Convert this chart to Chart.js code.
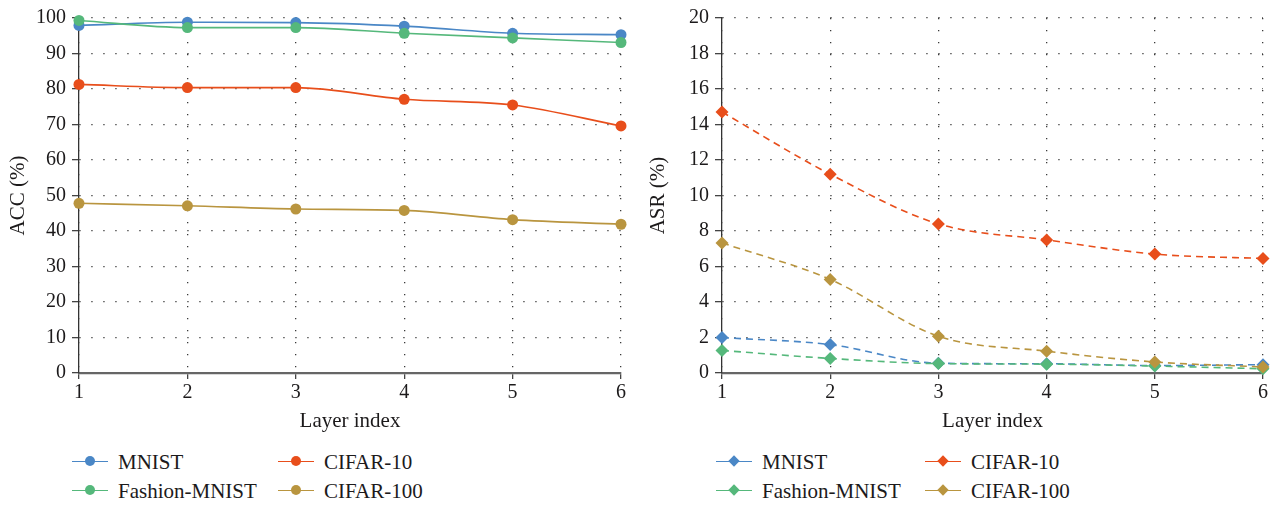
<!DOCTYPE html>
<html>
<head>
<meta charset="utf-8">
<script src="https://cdn.jsdelivr.net/npm/chart.js@4.4.0/dist/chart.umd.min.js"></script>
<style>
    body { margin: 0; background: #fff; width: 1276px; height: 505px; position: relative; overflow: hidden;
           font-family: 'Liberation Serif', serif; color: #1c1a1b; }
    #accBox { position: absolute; left: 0; top: 0; width: 640px; height: 440px; }
    #asrBox { position: absolute; left: 640px; top: 0; width: 636px; height: 440px; }
    .leg { position: absolute; height: 24px; font-size: 21px; line-height: 24px; white-space: nowrap; }
    .leg .ln { position: absolute; left: 0; top: 11px; width: 36px; height: 0; border-top: 1.6px solid; }
    .leg .mk { position: absolute; }
    .leg .tx { position: absolute; left: 46px; top: 0; }
</style>
</head>
<body>
<div id="accBox"><canvas id="accChart"></canvas></div>
<div id="asrBox"><canvas id="asrChart"></canvas></div>
<div id="legends"></div>

<script>
// Data
const layers = ['1', '2', '3', '4', '5', '6'];
const names = ['MNIST', 'Fashion-MNIST', 'CIFAR-10', 'CIFAR-100'];
const colors = ['#4a87c6', '#55b87b', '#e84e1b', '#b9953f'];

const accMnist = [97.9, 98.8, 98.7, 97.7, 95.7, 95.3];
const accFashion = [99.3, 97.3, 97.3, 95.7, 94.4, 93.1];
const accCifar10 = [81.3, 80.4, 80.4, 77.1, 75.5, 69.6];
const accCifar100 = [47.8, 47.1, 46.2, 45.8, 43.2, 41.9];

const asrMnist = [2.0, 1.6, 0.55, 0.52, 0.42, 0.47];
const asrFashion = [1.27, 0.82, 0.53, 0.5, 0.39, 0.24];
const asrCifar10 = [14.7, 11.2, 8.4, 7.5, 6.7, 6.45];
const asrCifar100 = [7.33, 5.27, 2.07, 1.23, 0.62, 0.34];

const accTicks = [0, 10, 20, 30, 40, 50, 60, 70, 80, 90, 100];
const asrTicks = [0, 2, 4, 6, 8, 10, 12, 14, 16, 18, 20];

Chart.defaults.font.family = "'Liberation Serif', serif";
Chart.defaults.font.size = 20;
Chart.defaults.color = '#1c1a1b';

// later series are painted on top, as in the figure
const makeSets = (series, pointStyle, dashed) => series.map((vals, i) => ({
    label: names[i],
    data: vals,
    order: series.length - i,
    borderColor: colors[i],
    backgroundColor: colors[i],
    borderWidth: 1.6,
    borderDash: dashed ? [7, 5] : [],
    pointStyle: pointStyle,
    pointRadius: pointStyle === 'circle' ? 5.5 : 6.5,
    pointBorderWidth: 0,
    cubicInterpolationMode: 'monotone',
    clip: false
}));

const gridOpts = {
    color: '#3a3a3a',
    lineWidth: 1.3,
    tickColor: '#444',
    tickWidth: 1.3,
    tickBorderDash: []
};

function buildChart(id, sets, yTicks, yTitle, yWidth, padRight) {
    const ctx = document.getElementById(id).getContext('2d');
    return new Chart(ctx, {
        type: 'line',
        data: { labels: layers, datasets: sets },
        options: {
            responsive: true,
            maintainAspectRatio: false,
            animation: false,
            layout: { padding: { top: 15, right: padRight, bottom: 5, left: 0 } },
            plugins: { legend: { display: false }, tooltip: { enabled: false } },
            scales: {
                x: {
                    grid: Object.assign({ tickLength: 6 }, gridOpts),
                    border: { color: '#666', width: 2.2, dash: [1.3, 10.7] },
                    ticks: { padding: 2, maxRotation: 0 },
                    title: { display: true, text: 'Layer index', font: { size: 21 }, padding: { top: 0, bottom: 1 } },
                    afterFit: s => { s.height = 62; }
                },
                y: {
                    min: yTicks[0],
                    max: yTicks[yTicks.length - 1],
                    afterBuildTicks: s => { s.ticks = yTicks.map(v => ({ value: v })); },
                    grid: Object.assign({ tickLength: 7 }, gridOpts),
                    border: { color: '#333', width: 1.3, dash: [1.3, 10.7] },
                    ticks: { padding: 6 },
                    title: { display: true, text: yTitle, font: { size: 21 }, padding: { top: 6, bottom: 0 } },
                    afterFit: s => { s.width = yWidth; }
                }
            }
        }
    });
}

buildChart('accChart', makeSets([accMnist, accFashion, accCifar10, accCifar100], 'circle', false),
    accTicks, 'ACC (%)', 79, 19);
buildChart('asrChart', makeSets([asrMnist, asrFashion, asrCifar10, asrCifar100], 'rectRot', true),
    asrTicks, 'ASR (%)', 82, 13);

// HTML legends, two columns each
function addLegend(x0, x1, diamond) {
    const rows = [462, 491];
    const cols = [x0, x1];
    const order = [[0, 0, 0], [2, 1, 0], [1, 0, 1], [3, 1, 1]];
    order.forEach(([i, c, r]) => {
        const el = document.createElement('div');
        el.className = 'leg';
        el.style.left = cols[c] + 'px';
        el.style.top = (rows[r] - 12) + 'px';
        const mk = diamond
            ? `<div class="mk" style="left:14px;top:7px;width:8px;height:8px;background:${colors[i]};transform:rotate(45deg)"></div>`
            : `<div class="mk" style="left:13px;top:6px;width:10px;height:10px;border-radius:50%;background:${colors[i]}"></div>`;
        el.innerHTML = `<div class="ln" style="border-color:${colors[i]}"></div>${mk}<span class="tx">${names[i]}</span>`;
        document.getElementById('legends').appendChild(el);
    });
}
addLegend(72, 278, false);
addLegend(716, 925, true);
</script>
</body>
</html>
